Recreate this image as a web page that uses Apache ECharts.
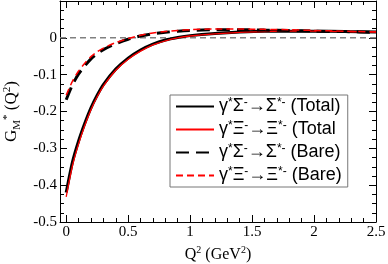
<!DOCTYPE html>
<html><head><meta charset="utf-8">
<script src="https://cdn.jsdelivr.net/npm/echarts@6/dist/echarts.min.js"></script>
<style>html,body{margin:0;padding:0;background:#fff}#c{width:388px;height:264px}</style>
</head><body><div id="c"></div>
<script>
var q2 = [0, 0.05, 0.1, 0.15, 0.2, 0.25, 0.3, 0.4, 0.5, 0.6, 0.7, 0.8, 0.9, 1.0, 1.2, 1.4, 1.6, 1.8, 2.0, 2.25, 2.5];
var sigmaTotal = [-0.420, -0.338, -0.280, -0.232, -0.190, -0.156, -0.127, -0.085, -0.055, -0.033, -0.017, -0.006, 0.001, 0.006, 0.012, 0.016, 0.018, 0.018, 0.018, 0.017, 0.016];
var xiTotal = [-0.432, -0.348, -0.288, -0.238, -0.195, -0.160, -0.131, -0.088, -0.058, -0.036, -0.019, -0.008, 0.000, 0.005, 0.011, 0.015, 0.017, 0.018, 0.018, 0.017, 0.016];
var sigmaBare = [-0.168, -0.128, -0.098, -0.076, -0.057, -0.043, -0.032, -0.016, -0.004, 0.005, 0.011, 0.015, 0.018, 0.020, 0.022, 0.022, 0.021, 0.020, 0.018, 0.017, 0.015];
var xiBare = [-0.156, -0.118, -0.090, -0.069, -0.051, -0.038, -0.028, -0.013, -0.002, 0.007, 0.013, 0.017, 0.020, 0.022, 0.024, 0.024, 0.023, 0.022, 0.020, 0.018, 0.016];
var seriesNames = ['γ*Σ⁻→Σ*⁻ (Total)', 'γ*Ξ⁻→Ξ*⁻ (Total', 'γ*Σ⁻→Σ*⁻ (Bare)', 'γ*Ξ⁻→Ξ*⁻ (Bare)'];
var legendRich = [
  'γ{s|*}Σ{s|-}→Σ{s|*-} (Total)',
  'γ{s|*}Ξ{s|-}→Ξ{s|*-} (Total',
  'γ{s|*}Σ{s|-}→Σ{s|*-} (Bare)',
  'γ{s|*}Ξ{s|-}→Ξ{s|*-} (Bare)'
];
var xTicks = [0, 0.5, 1, 1.5, 2, 2.5];
var xMinorTicks = [0, 0.1, 0.2, 0.3, 0.4, 0.5, 0.6, 0.7, 0.8, 0.9, 1.0, 1.1, 1.2, 1.3, 1.4, 1.5, 1.6, 1.7, 1.8, 1.9, 2.0, 2.1, 2.2, 2.3, 2.4, 2.5];
var yTicks = [-0.5, -0.4, -0.3, -0.2, -0.1, 0];

function pairs(ys){ return q2.map(function(x,i){ return [x, ys[i]]; }); }
var serif = 'Liberation Serif';
var sans = 'Liberation Sans';

var chart = echarts.init(document.getElementById('c'), null, {renderer:'canvas'});
function mkLine(name, ys, color, width, type){
  return {name:name, type:'line', xAxisIndex:0, yAxisIndex:0, data:pairs(ys), showSymbol:false, symbol:'none', smooth:0.25,
    lineStyle:{color:color, width:width, type:type}, itemStyle:{color:color}, z:3, animation:false};
}
function xAx(pos, major, labels){
  return {
    type:'value', min:-0.05, max:2.5, position:pos,
    axisLine:{show:major, onZero:false, lineStyle:{color:'#000'}},
    axisTick:{show:true, inside:true, length: major ? 7 : 4, customValues: major ? xTicks : xMinorTicks, lineStyle:{color:'#000', width:1}},
    splitLine:{show:false},
    axisLabel: labels ? {fontFamily:serif, fontSize:15, color:'#000', margin:3, customValues:xTicks,
      formatter:function(v){ return String(+(+v).toFixed(2)); }} : {show:false}
  };
}
var xBottom = xAx('bottom', true, true);
xBottom.name = '{a|Q}{s|2}{a| (GeV}{s|2}{a|)}';
xBottom.nameLocation = 'middle';
xBottom.nameGap = 17;
xBottom.nameTextStyle = {rich:{a:{fontFamily:serif, fontSize:16, color:'#000'}, s:{fontFamily:serif, fontSize:10, color:'#000', verticalAlign:'top', padding:[0,0,9,0]}}};

chart.setOption({
  animation:false,
  grid:{left:60, right:12, top:1, bottom:42, containLabel:false, outerBoundsMode:'none'},
  legend:{
    data:seriesNames, orient:'vertical', left:170, top:95, itemWidth:38, itemHeight:14, itemGap:3,
    padding:[2,6,1,5], borderColor:'#777', borderWidth:1, backgroundColor:'#fff',
    itemStyle:{opacity:0},
    formatter:function(n){ return legendRich[seriesNames.indexOf(n)]; },
    textStyle:{fontFamily:sans, fontSize:18, color:'#000', lineHeight:19,
      rich:{s:{fontFamily:sans, fontSize:12, color:'#000', verticalAlign:'top', lineHeight:19, padding:[0,0,8,0]}}}
  },
  xAxis:[xBottom, xAx('top', true, false), xAx('bottom', false, false), xAx('top', false, false)],
  yAxis:[{
    type:'value', min:-0.5, max:0.1, interval:0.1, position:'left',
    axisLine:{show:true, onZero:false, lineStyle:{color:'#000'}},
    axisTick:{show:true, inside:true, length:7, lineStyle:{color:'#000', width:1}},
    minorTick:{show:true, splitNumber:4, length:4, lineStyle:{color:'#000', width:1}}, splitLine:{show:false},
    axisLabel:{fontFamily:serif, fontSize:15, color:'#000', margin:3,
      formatter:function(v){ var r = +v.toFixed(2); return yTicks.indexOf(r)>=0 ? String(r) : ''; }},
    name:'{a|G}{b|M}{s|*}{a| (Q}{s|2}{a|)}', nameLocation:'middle', nameGap:34, nameRotate:90,
    nameTextStyle:{rich:{a:{fontFamily:serif, fontSize:17, color:'#000'}, b:{fontFamily:serif, fontSize:11, color:'#000', verticalAlign:'bottom', padding:[6,0,0,0]}, s:{fontFamily:serif, fontSize:11, color:'#000', verticalAlign:'top', padding:[0,0,10,0]}}}
  },{
    type:'value', min:-0.5, max:0.1, interval:0.1, position:'right',
    axisLine:{show:true, onZero:false, lineStyle:{color:'#000'}},
    axisTick:{show:true, inside:true, length:7, lineStyle:{color:'#000', width:1}},
    minorTick:{show:true, splitNumber:4, length:4, lineStyle:{color:'#000', width:1}}, splitLine:{show:false},
    axisLabel:{show:false}
  }],
  series:[
    {type:'line', data:[[-0.05,0],[2.5,0]], showSymbol:false, symbol:'none', silent:true,
     lineStyle:{color:'#808080', width:1.5, type:[6,4]}, z:1},
    mkLine(seriesNames[0], sigmaTotal, '#000', 3, 'solid'),
    mkLine(seriesNames[1], xiTotal, '#ff0000', 1.3, 'solid'),
    mkLine(seriesNames[2], sigmaBare, '#000', 3, [13,7]),
    mkLine(seriesNames[3], xiBare, '#ff0000', 1.5, [7,4])
  ]
});
</script></body></html>
